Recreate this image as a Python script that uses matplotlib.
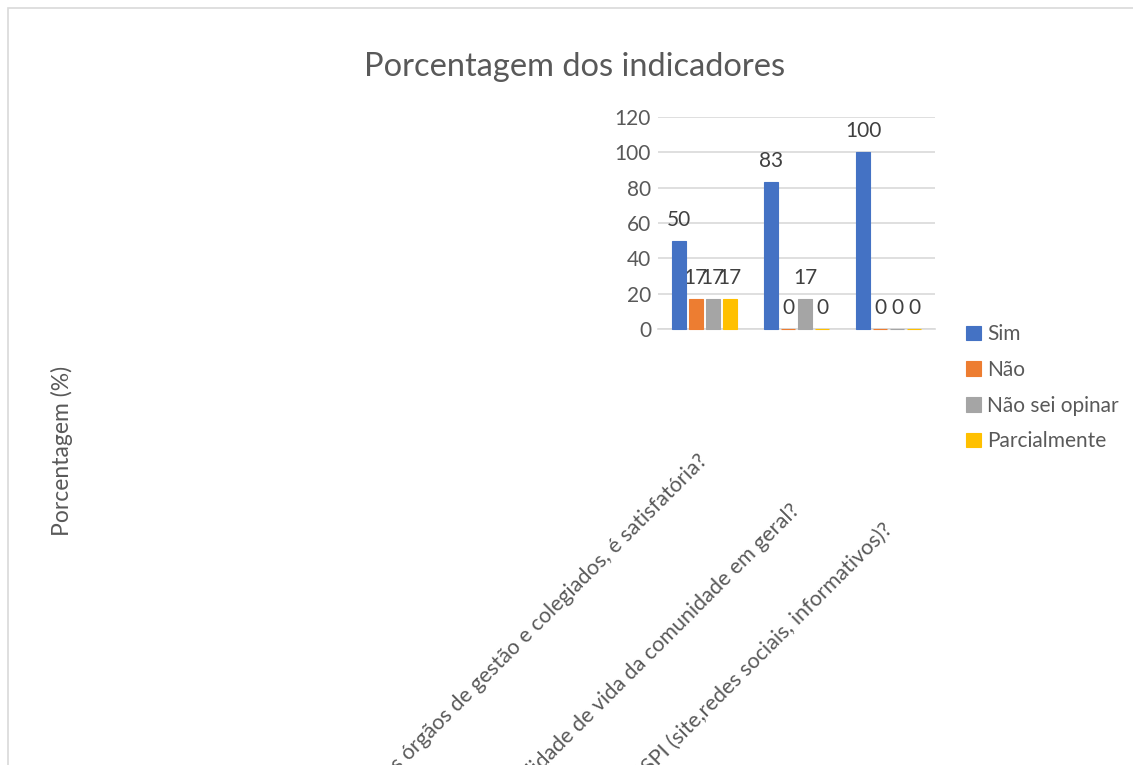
import numpy as np
import matplotlib.pyplot as plt
from matplotlib.patches import Rectangle

plt.rcParams['font.family'] = ['Lato', 'DejaVu Sans']

categories = [
    "A comunicação entre os órgãos de gestão e colegiados, é satisfatória?",
    "A UESPI contribui para a melhoria da qualidade de vida da comunidade em geral?",
    "Você tem acesso às informações divulgadas pela UESPI (site,redes sociais, informativos)?",
]
series = ['Sim', 'Não', 'Não sei opinar', 'Parcialmente']
sim = [50, 83, 100]
nao = [17, 0, 0]
nao_sei = [17, 17, 0]
parcial = [17, 0, 0]
colors = ['#4472C4', '#ED7D31', '#A5A5A5', '#FFC000']

# how far below the axis each rotated label ends (pixels)
label_drop = [129, 178, 197]

W, H = 1133, 765
fig = plt.figure(figsize=(W / 100, H / 100), dpi=100)
fig.patches.append(Rectangle((8 / W, -0.1), 1.2, 1 - 8 / H + 0.1, transform=fig.transFigure,
                             fill=False, edgecolor='#d9d9d9', linewidth=1.2))

ax = fig.add_axes([658 / W, 1 - 329 / H, 277 / W, 212 / H])
x = np.arange(len(categories))
step = 0.184
width = 0.152
for i, (name, vals) in enumerate(zip(series, [sim, nao, nao_sei, parcial])):
    bars = ax.bar(x + (i - 1.5) * step, vals, width, color=colors[i], label=name,
                  edgecolor=colors[i], linewidth=0.8, zorder=4, clip_on=False)
    ax.bar_label(bars, labels=[str(v) for v in vals], padding=8, fontsize=15, color='#404040')

ax.set_ylim(0, 120)
ax.set_xlim(-0.5, 2.5)
ax.set_yticks(range(0, 121, 20))
ax.yaxis.grid(True, color='#d9d9d9', linewidth=1.2, zorder=0)
for s in ['left', 'right', 'top']:
    ax.spines[s].set_visible(False)
ax.spines['bottom'].set_color('#d9d9d9')
ax.spines['bottom'].set_linewidth(1.2)
ax.spines['bottom'].set_zorder(1)
ax.tick_params(axis='y', length=0, labelsize=15, labelcolor='#595959', pad=5)
ax.tick_params(axis='x', length=0)
ax.set_xticks(x)
ax.set_xticklabels([])

for xi, text, drop in zip(x, categories, label_drop):
    ax.annotate(text, xy=(xi, 0), xycoords=('data', 'axes fraction'),
                xytext=(0, -drop * 0.72), textcoords='offset points',
                rotation=45, rotation_mode='anchor', ha='right', va='center',
                fontsize=15.5, color='#595959', annotation_clip=False)

fig.text(575 / W, 1 - 67 / H, 'Porcentagem dos indicadores', ha='center', va='center',
         fontsize=23.5, color='#595959')
fig.text(62 / W, 1 - 451 / H, 'Porcentagem (%)', ha='center', va='center',
         rotation=90, fontsize=16.5, color='#595959')

fig.legend(loc='upper left', bbox_to_anchor=(958 / W, 1 - 316 / H), frameon=False,
           fontsize=15, labelcolor='#595959', handlelength=0.7, handleheight=0.7,
           handletextpad=0.3, labelspacing=0.75, borderaxespad=0)

fig.savefig('out.png', dpi=100)
